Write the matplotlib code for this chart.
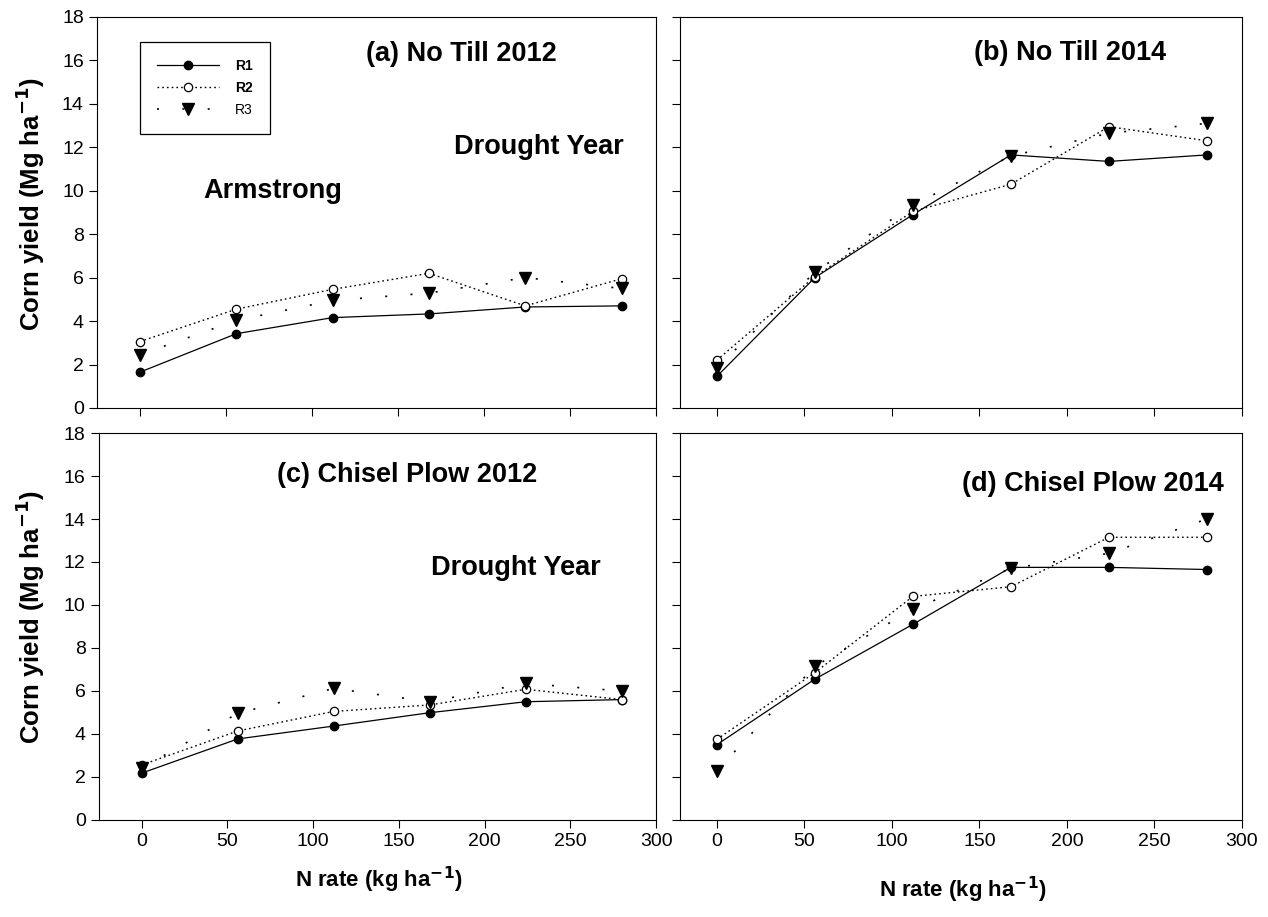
import numpy as np
import matplotlib
matplotlib.use("Agg")
import matplotlib.pyplot as plt

plt.rcParams['font.family'] = ['Liberation Sans', 'DejaVu Sans']

# N rates (kg/ha)
n_rate = [0, 56, 112, 168, 224, 280]

# corn yield (Mg/ha) by replicate
nt2012_r1 = [1.65, 3.42, 4.16, 4.33, 4.65, 4.7]
nt2012_r2 = [3.06, 4.55, 5.46, 6.2, 4.7, 5.95]
nt2012_r3 = [2.45, 4.03, 4.95, 5.29, 6.0, 5.5]

nt2014_r1 = [1.45, 6.0, 8.9, 11.65, 11.35, 11.65]
nt2014_r2 = [2.2, 6.05, 9.05, 10.3, 12.95, 12.3]
nt2014_r3 = [1.85, 6.25, 9.35, 11.6, 12.65, 13.1]

cp2012_r1 = [2.18, 3.77, 4.37, 4.99, 5.5, 5.6]
cp2012_r2 = [2.56, 4.14, 5.05, 5.35, 6.08, 5.6]
cp2012_r3 = [2.41, 4.96, 6.12, 5.5, 6.35, 6.0]

cp2014_r1 = [3.5, 6.55, 9.1, 11.75, 11.75, 11.65]
cp2014_r2 = [3.75, 6.85, 10.4, 10.85, 13.15, 13.15]
cp2014_r3 = [2.3, 7.15, 9.8, 11.7, 12.4, 14.0]

titles = ["(a) No Till 2012", "(b) No Till 2014",
          "(c) Chisel Plow 2012", "(d) Chisel Plow 2014"]

fig = plt.figure(figsize=(12.68, 9.17), dpi=100)

boxes = [
    [0.0765, 0.5551, 0.4409, 0.4264],
    [0.5363, 0.5551, 0.4432, 0.4264],
    [0.0780, 0.1058, 0.4394, 0.4220],
    [0.5363, 0.1058, 0.4432, 0.4220],
]
data = [
    (nt2012_r1, nt2012_r2, nt2012_r3),
    (nt2014_r1, nt2014_r2, nt2014_r3),
    (cp2012_r1, cp2012_r2, cp2012_r3),
    (cp2014_r1, cp2014_r2, cp2014_r3),
]
xmins = [-25, -21, -25, -21]
title_pos = [(186.6, 16.3), (202, 16.35), (154.8, 16.05), (215, 15.65)]

axes = []
for i, box in enumerate(boxes):
    ax = fig.add_axes(box)
    r1, r2, r3 = data[i]
    ax.plot(n_rate, r1, color='black', lw=0.9, ls='-', marker='o',
            ms=6, mfc='black', mec='black', label='R1')
    ax.plot(n_rate, r2, color='black', lw=1.0, ls=(0, (1.2, 2.2)), marker='o',
            ms=6, mfc='white', mec='black', mew=0.9, label='R2')
    ax.plot(n_rate, r3, color='black', lw=1.2, ls=(0, (1.2, 14)), marker='v',
            ms=8.5, mfc='black', mec='black', label='R3')
    ax.set_xlim(xmins[i], 300)
    ax.set_ylim(0, 18)
    ax.set_xticks(range(0, 301, 50))
    ax.set_yticks(range(0, 19, 2))
    ax.tick_params(direction='out', length=6, width=0.8, labelsize=14,
                   top=False, right=False)
    if i in (0, 1):
        ax.tick_params(labelbottom=False)
    if i in (1, 3):
        ax.tick_params(labelleft=False)
    for s in ax.spines.values():
        s.set_linewidth(0.8)
    tx, ty = title_pos[i]
    ax.text(tx, ty, titles[i], ha='center', va='center',
            fontsize=19.5, fontweight='bold')
    axes.append(ax)

axes[0].text(232, 12.0, "Drought Year", ha='center', va='center',
             fontsize=19.5, fontweight='bold')
axes[0].text(77, 9.97, "Armstrong", ha='center', va='center',
             fontsize=19.5, fontweight='bold')
axes[2].text(218.5, 11.7, "Drought Year", ha='center', va='center',
             fontsize=19.5, fontweight='bold')

leg = axes[0].legend(loc='upper left', bbox_to_anchor=(0.077, 0.936),
                     fancybox=False, edgecolor='black', framealpha=1,
                     handlelength=4.5, fontsize=10, borderpad=1.2,
                     labelspacing=0.6, handletextpad=1.15, borderaxespad=0)
leg.get_frame().set_linewidth(0.9)
for t, w in zip(leg.get_texts(), ['bold', 'bold', 'normal']):
    t.set_fontweight(w)

ylab = r"Corn yield (Mg ha$^{\mathbf{-1}}$)"
xlab = r"N rate (kg ha$^{\mathbf{-1}}$)"
fig.text(0.0237, 0.778, ylab, rotation=90, ha='center', va='center',
         fontsize=18.5, fontweight='bold')
fig.text(0.0237, 0.327, ylab, rotation=90, ha='center', va='center',
         fontsize=18.5, fontweight='bold')
fig.text(0.2985, 0.040, xlab, ha='center', va='center',
         fontsize=16, fontweight='bold')
fig.text(0.759, 0.030, xlab, ha='center', va='center',
         fontsize=16, fontweight='bold')

fig.savefig("out.png", dpi=100)
